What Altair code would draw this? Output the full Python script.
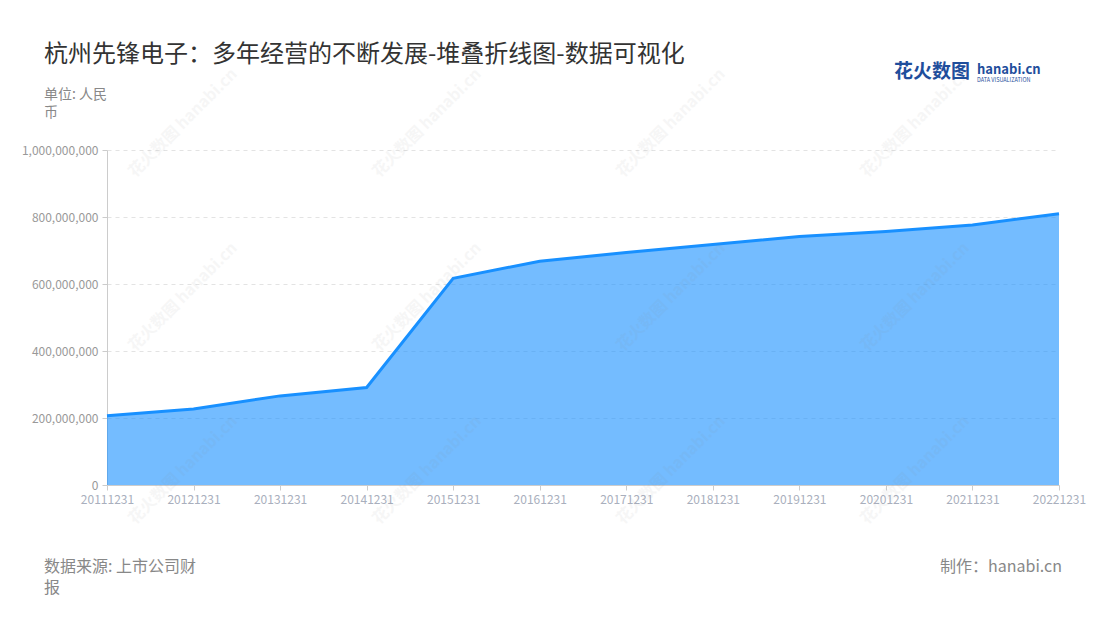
import altair as alt
import pandas as pd

dates = ["20111231", "20121231", "20131231", "20141231", "20151231", "20161231",
         "20171231", "20181231", "20191231", "20201231", "20211231", "20221231"]
values = [207e6, 227e6, 266e6, 291e6, 617e6, 668e6,
          694e6, 718e6, 742e6, 757e6, 776e6, 810e6]
y_ticks = [0, 200000000, 400000000, 600000000, 800000000, 1000000000]

df = pd.DataFrame({"date": dates, "value": values})
FONT = "Noto Sans CJK SC"

base = alt.Chart(df).encode(
    x=alt.X("date:O", sort=dates, scale=alt.Scale(type="point", padding=0),
            axis=alt.Axis(title=None, labelAngle=0, grid=False,
                          labelColor="#a9afbd", labelFontSize=12, labelFont=FONT,
                          domainColor="#cccccc", tickColor="#cccccc", tickSize=5,
                          labelPadding=4)),
    y=alt.Y("value:Q", scale=alt.Scale(domain=[0, 1000000000]),
            axis=alt.Axis(title=None, values=y_ticks,
                          labelExpr="format(datum.value, ',d')",
                          grid=True, gridDash=[4, 4], gridColor="#e3e3e3",
                          labelColor="#999999", labelFontSize=12, labelFont=FONT,
                          domainColor="#cccccc", tickColor="#cccccc", tickSize=5,
                          labelPadding=4)),
)

area = base.mark_area(fill="#1890ff", fillOpacity=0.6)
line = base.mark_line(color="#1890ff", strokeWidth=3)

one = pd.DataFrame({"t": [0]})


def txt(text, x, y, size, color, align="left", weight="normal", **extra):
    kw = dict(align=align, baseline="middle", fontSize=size, color=color,
              font=FONT, fontWeight=weight, text=text)
    kw.update(extra)
    return alt.Chart(one).mark_text(**kw).encode(x=alt.value(x), y=alt.value(y))


# faint diagonal watermarks
wm_layers = []
for wx in [76, 320, 564, 808]:
    for wy in [-27, 147, 320]:
        wm_layers.append(txt("花火数图 hanabi.cn", wx, wy, 16, "#888888", align="center",
                             weight="bold", angle=315, opacity=0.07))

title = txt("杭州先锋电子：多年经营的不断发展-堆叠折线图-数据可视化", -63, -95, 24, "#333333")
unit1 = txt("单位: 人民", -63, -55, 14, "#888888")
unit2 = txt("币", -63, -37, 14, "#888888")
source1 = txt("数据来源: 上市公司财", -63, 417, 16, "#888888")
source2 = txt("报", -63, 438, 16, "#888888")
maker = txt("制作：hanabi.cn", 955, 417, 16, "#888888", align="right")
logo1 = txt("花火数图", 787, -78, 19, "#1f4e9c", weight="bold")
logo2 = txt("hanabi.cn", 870, -80, 13, "#1f4e9c", weight="bold")
logo3 = txt("DATA VISUALIZATION", 870, -70, 5.5, "#1f4e9c")

chart = alt.layer(area, line, *wm_layers, title, unit1, unit2, source1, source2, maker,
                  logo1, logo2, logo3).properties(
    width=952, height=335,
    autosize=alt.AutoSizeParams(type="none"),
    padding={"left": 99, "top": 142, "right": 33, "bottom": 127},
).configure(background="white").configure_view(stroke="transparent", strokeWidth=0)

chart.save("out.html", embed_options={"renderer": "svg", "actions": False})
